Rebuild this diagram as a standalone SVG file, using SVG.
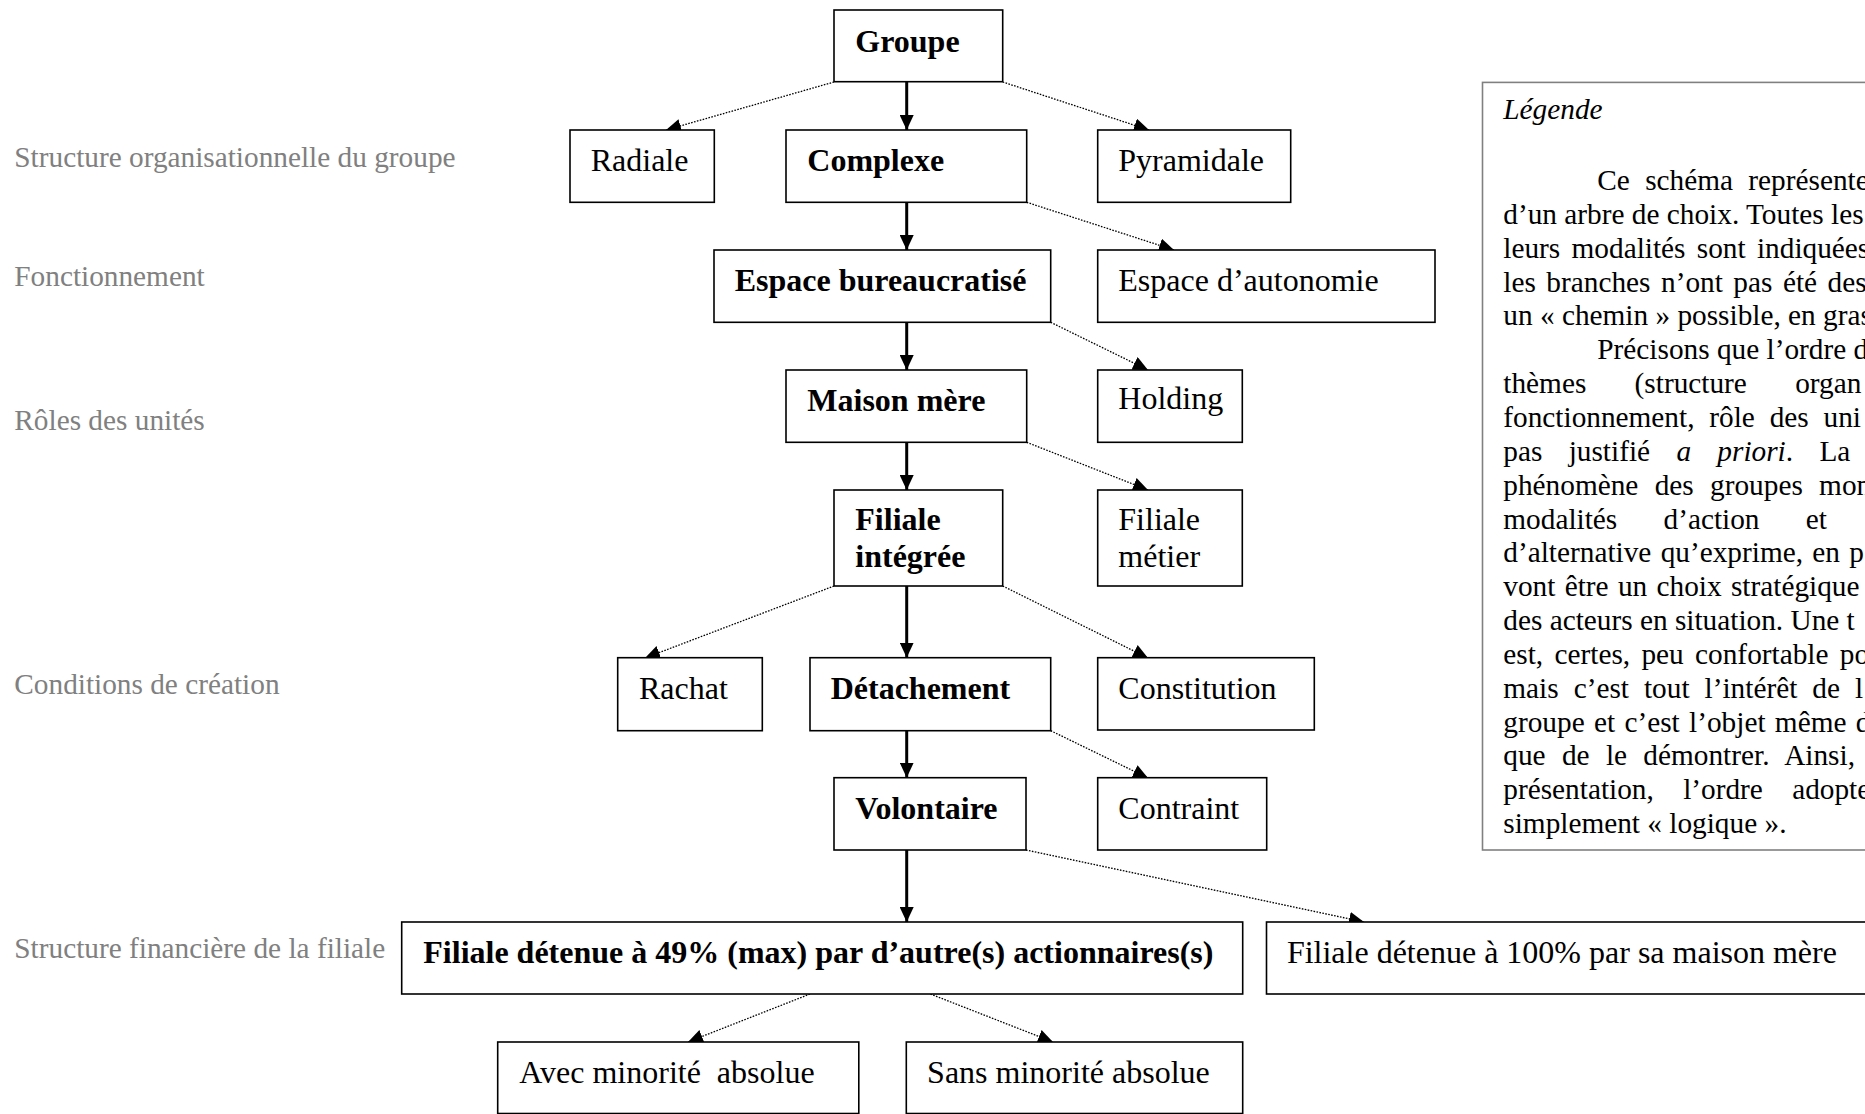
<svg xmlns="http://www.w3.org/2000/svg" width="1865" height="1114" viewBox="0 0 1865 1114">
<defs>
<marker id="ah" markerUnits="userSpaceOnUse" markerWidth="15" markerHeight="14" refX="15" refY="7" orient="auto">
<path d="M0,0 L15,7 L0,14 z" fill="#000"/>
</marker>
<style>
.box{fill:#fff;stroke:#000;stroke-width:1.6}
.t{font-family:"Liberation Serif","Times New Roman",serif;font-size:32px;fill:#000}
.b{font-weight:bold}
.lab{font-family:"Liberation Serif","Times New Roman",serif;font-size:29.3px;fill:#808080}
.leg{font-family:"Liberation Serif","Times New Roman",serif;font-size:29.3px;fill:#000}
.solid{stroke:#000;stroke-width:3;fill:none;marker-end:url(#ah)}
.dot{stroke:#000;stroke-width:1.3;stroke-dasharray:1.6 1.4;fill:none;marker-end:url(#ah)}
.legbox{fill:#fff;stroke:#808080;stroke-width:1.6}
</style>
</defs>
<rect width="1865" height="1114" fill="#fff"/>

<g id="row-labels">
<text class="lab" x="14.3" y="167">Structure organisationnelle du groupe</text>
<text class="lab" x="14.3" y="286">Fonctionnement</text>
<text class="lab" x="14.3" y="430">Rôles des unités</text>
<text class="lab" x="14.3" y="694">Conditions de création</text>
<text class="lab" x="14.3" y="958">Structure financière de la filiale</text>
</g>

<g id="connectors">
<path class="solid" d="M906.7,82 V130"/>
<path class="solid" d="M906.7,202.3 V250"/>
<path class="solid" d="M906.7,322.3 V370"/>
<path class="solid" d="M906.7,442.3 V490"/>
<path class="solid" d="M906.7,586 V657.7"/>
<path class="solid" d="M906.7,730.7 V777.7"/>
<path class="solid" d="M906.7,850 V922"/>
<path class="dot" d="M834,82 L666,130"/>
<path class="dot" d="M1002.7,82 L1149,130"/>
<path class="dot" d="M1026.7,202.3 L1174,250"/>
<path class="dot" d="M1050.7,322.3 L1148,370"/>
<path class="dot" d="M1026.7,442.3 L1148,490"/>
<path class="dot" d="M834,586 L645,658"/>
<path class="dot" d="M1002.7,586 L1148,658"/>
<path class="dot" d="M1050.7,730.7 L1148,778"/>
<path class="dot" d="M1026,850 L1364,922"/>
<path class="dot" d="M810,994 L688,1042"/>
<path class="dot" d="M930.4,994 L1053,1042"/>
</g>

<g id="n-groupe"><rect class="box" x="834" y="10" width="168.7" height="71.7"/><text class="t b" x="855.3" y="51.7">Groupe</text></g>
<g id="n-radiale"><rect class="box" x="570" y="130" width="144.3" height="72.3"/><text class="t" x="590.7" y="171">Radiale</text></g>
<g id="n-complexe"><rect class="box" x="786" y="130" width="240.7" height="72.3"/><text class="t b" x="807.3" y="171">Complexe</text></g>
<g id="n-pyramidale"><rect class="box" x="1097.7" y="130" width="193" height="72.3"/><text class="t" x="1118.3" y="171">Pyramidale</text></g>
<g id="n-bureau"><rect class="box" x="714" y="250" width="336.7" height="72.3"/><text class="t b" x="734.7" y="291">Espace bureaucratisé</text></g>
<g id="n-autonomie"><rect class="box" x="1097.7" y="250" width="337.3" height="72.3"/><text class="t" x="1118.3" y="291">Espace d’autonomie</text></g>
<g id="n-maison"><rect class="box" x="786" y="370" width="240.7" height="72.3"/><text class="t b" x="807.3" y="411">Maison mère</text></g>
<g id="n-holding"><rect class="box" x="1097.7" y="370" width="144.6" height="72.3"/><text class="t" x="1118.3" y="409">Holding</text></g>
<g id="n-integree"><rect class="box" x="834" y="490" width="168.7" height="96"/><text class="t b" x="855.3" y="530">Filiale</text><text class="t b" x="855.3" y="567">intégrée</text></g>
<g id="n-metier"><rect class="box" x="1097.7" y="490" width="144.6" height="96"/><text class="t" x="1118.3" y="530">Filiale</text><text class="t" x="1118.3" y="567">métier</text></g>
<g id="n-rachat"><rect class="box" x="617.7" y="657.7" width="144.6" height="73"/><text class="t" x="639" y="699">Rachat</text></g>
<g id="n-detachement"><rect class="box" x="810" y="657.7" width="240.7" height="73"/><text class="t b" x="830.7" y="699">Détachement</text></g>
<g id="n-constitution"><rect class="box" x="1097.7" y="657.7" width="216.6" height="72.3"/><text class="t" x="1118.3" y="699">Constitution</text></g>
<g id="n-volontaire"><rect class="box" x="834" y="777.7" width="192" height="72.3"/><text class="t b" x="855.3" y="818.5">Volontaire</text></g>
<g id="n-contraint"><rect class="box" x="1097.7" y="777.7" width="169" height="72.3"/><text class="t" x="1118.3" y="818.5">Contraint</text></g>
<g id="n-49"><rect class="box" x="401.7" y="922" width="841" height="72"/><text class="t b" x="423.3" y="963">Filiale détenue à 49% (max) par d’autre(s) actionnaires(s)</text></g>
<g id="n-100"><rect class="box" x="1266.5" y="922" width="700" height="72"/><text class="t" x="1286.9" y="963">Filiale détenue à 100% par sa maison mère</text></g>
<g id="n-avec"><rect class="box" x="497.7" y="1042" width="361.1" height="71.5"/><text class="t" x="519.3" y="1083" xml:space="preserve">Avec minorité  absolue</text></g>
<g id="n-sans"><rect class="box" x="906.3" y="1042" width="336.4" height="71.5"/><text class="t" x="927.1" y="1083">Sans minorité absolue</text></g>

<g id="legend">
<rect class="legbox" x="1482.5" y="82.4" width="500" height="767.6"/>
<text class="leg" x="1503.3" y="119" font-style="italic">Légende</text>
<text class="leg" x="1597.3" y="190" word-spacing="8">Ce schéma représente</text>
<text class="leg" x="1503.3" y="223.85">d’un arbre de choix. Toutes les</text>
<text class="leg" x="1503.3" y="257.7" word-spacing="4">leurs modalités sont indiquées</text>
<text class="leg" x="1503.3" y="291.55" word-spacing="3.2">les branches n’ont pas été des</text>
<text class="leg" x="1503.3" y="325.4">un « chemin » possible, en gras</text>
<text class="leg" x="1597.3" y="359.25">Précisons que l’ordre d</text>
<text class="leg" x="1503.3" y="393.1" word-spacing="41">thèmes (structure organ</text>
<text class="leg" x="1503.3" y="426.95" word-spacing="7.5">fonctionnement, rôle des uni</text>
<text class="leg" x="1503.3" y="460.8" word-spacing="19">pas justifié <tspan font-style="italic">a priori</tspan>. La</text>
<text class="leg" x="1503.3" y="494.65" word-spacing="9">phénomène des groupes mon</text>
<text class="leg" x="1503.3" y="528.5" word-spacing="39">modalités d’action et</text>
<text class="leg" x="1503.3" y="562.35" word-spacing="2">d’alternative qu’exprime, en p</text>
<text class="leg" x="1503.3" y="596.2" word-spacing="2">vont être un choix stratégique</text>
<text class="leg" x="1503.3" y="630.05">des acteurs en situation. Une t</text>
<text class="leg" x="1503.3" y="663.9" word-spacing="4">est, certes, peu confortable po</text>
<text class="leg" x="1503.3" y="697.75" word-spacing="7.7">mais c’est tout l’intérêt de l</text>
<text class="leg" x="1503.3" y="731.6" word-spacing="2">groupe et c’est l’objet même d</text>
<text class="leg" x="1503.3" y="765.45" word-spacing="9">que de le démontrer. Ainsi,</text>
<text class="leg" x="1503.3" y="799.3" word-spacing="22">présentation, l’ordre adopte</text>
<text class="leg" x="1503.3" y="833.15">simplement « logique ».</text>
</g>
</svg>
